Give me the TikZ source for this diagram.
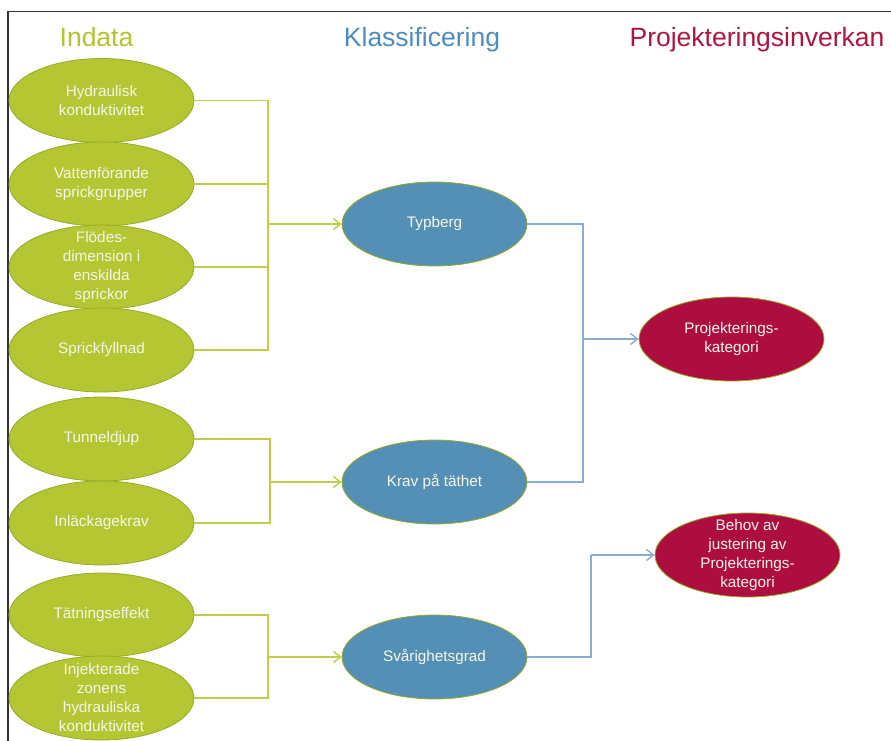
\documentclass[tikz,border=0pt]{standalone}
\usepackage{fontspec}
\setmainfont{Liberation Sans}
\usetikzlibrary{shapes.geometric,arrows.meta}

\definecolor{gfill}{HTML}{B4C632}
\definecolor{gedge}{HTML}{98AA26}
\definecolor{bfill}{HTML}{5490B5}
\definecolor{rfill}{HTML}{AD0D3F}
\definecolor{gline}{HTML}{BFCE45}
\definecolor{bline}{HTML}{86AED2}
\definecolor{gtitle}{HTML}{B3C42D}
\definecolor{btitle}{HTML}{4E8CC0}
\definecolor{rtitle}{HTML}{B0143F}
\definecolor{ltext}{HTML}{F6F6EC}
\definecolor{frame}{HTML}{333333}

\tikzset{
  % fixed-size ovals: text may run past the outline, as with four lines
  oval/.style={ellipse, draw=gedge, line width=0.8pt, inner xsep=0pt,
    inner ysep=-12pt, minimum width=185pt, minimum height=84pt,
    text=ltext, align=center, font=\fontsize{15.3}{19}\selectfont},
  inoval/.style={oval, fill=gfill},
  klassoval/.style={oval, fill=bfill},
  utoval/.style={oval, fill=rfill},
  title/.style={anchor=base, font=\fontsize{26.5}{30}\selectfont},
  gconn/.style={draw=gline, line width=1.5pt},
  bconn/.style={draw=bline, line width=1.5pt},
  tip/.style={-{Straight Barb[length=7pt,width=11pt,line width=1.4pt]}}
}

\begin{document}
\begin{tikzpicture}[x=1pt, y=-1pt]
  \useasboundingbox (0,0) rectangle (891,740);
  \begin{scope}
    \clip (0,0) rectangle (891,740);

    % frame
    \draw[frame, line width=1.3pt] (8,760) -- (8,11.5) -- (910,11.5);

    % column titles
    \node[title, text=gtitle] (tin)  at (96.5,46) {Indata};
    \node[title, text=btitle] (tkl)  at (422,46)  {Klassificering};
    \node[title, text=rtitle] (tpr)  at (757,46)  {Projekteringsinverkan};

    % input ovals
    \node[inoval] (h1) at (101.5,100.5) {Hydraulisk\\konduktivitet};
    \node[inoval] (h2) at (101.5,184)   {Vattenförande\\sprickgrupper};
    \node[inoval] (h3) at (101.5,267)   {Flödes-\\dimension i\\enskilda\\sprickor};
    \node[inoval] (h4) at (101.5,350)   {Sprickfyllnad};
    \node[inoval] (k1) at (101.5,439)   {Tunneldjup};
    \node[inoval] (k2) at (101.5,523)   {Inläckagekrav};
    \node[inoval] (s1) at (101.5,615)   {Tätningseffekt};
    \node[inoval] (s2) at (101.5,698)   {Injekterade\\zonens\\hydrauliska\\konduktivitet};

    % classification ovals
    \node[klassoval] (typ)  at (434.5,224) {Typberg};
    \node[klassoval] (krav) at (434.5,482) {Krav på täthet};
    \node[klassoval] (svar) at (434.5,657) {Svårighetsgrad};

    % design ovals
    \node[utoval] (pk)  at (731.5,339) {Projekterings-\\kategori};
    \node[utoval] (beh) at (747.5,555) {Behov av\\justering av\\Projekterings-\\kategori};

    % junction points
    \coordinate (jt) at (268,224);
    \coordinate (jk) at (270,482);
    \coordinate (js) at (268,657);
    \coordinate (jp) at (583,339);
    \coordinate (jb) at (591,555);

    % input connectors
    \draw[gconn] (h1.east) -| (jt);
    \draw[gconn] (h2.east) -| (jt);
    \draw[gconn] (h3.east) -| (jt);
    \draw[gconn] (h4.east) -| (jt);
    \draw[gconn, tip] (jt) -- (typ.west);

    \draw[gconn] (k1.east) -| (jk);
    \draw[gconn] (k2.east) -| (jk);
    \draw[gconn, tip] (jk) -- (krav.west);

    \draw[gconn] (s1.east) -| (js);
    \draw[gconn] (s2.east) -| (js);
    \draw[gconn, tip] (js) -- (svar.west);

    % classification connectors
    \draw[bconn] (typ.east) -| (jp);
    \draw[bconn] (krav.east) -| (jp);
    \draw[bconn, tip] (jp) -- (pk.west);

    \draw[bconn] (svar.east) -| (jb);
    \draw[bconn, tip] (jb) -- (beh.west);
  \end{scope}
\end{tikzpicture}
\end{document}
